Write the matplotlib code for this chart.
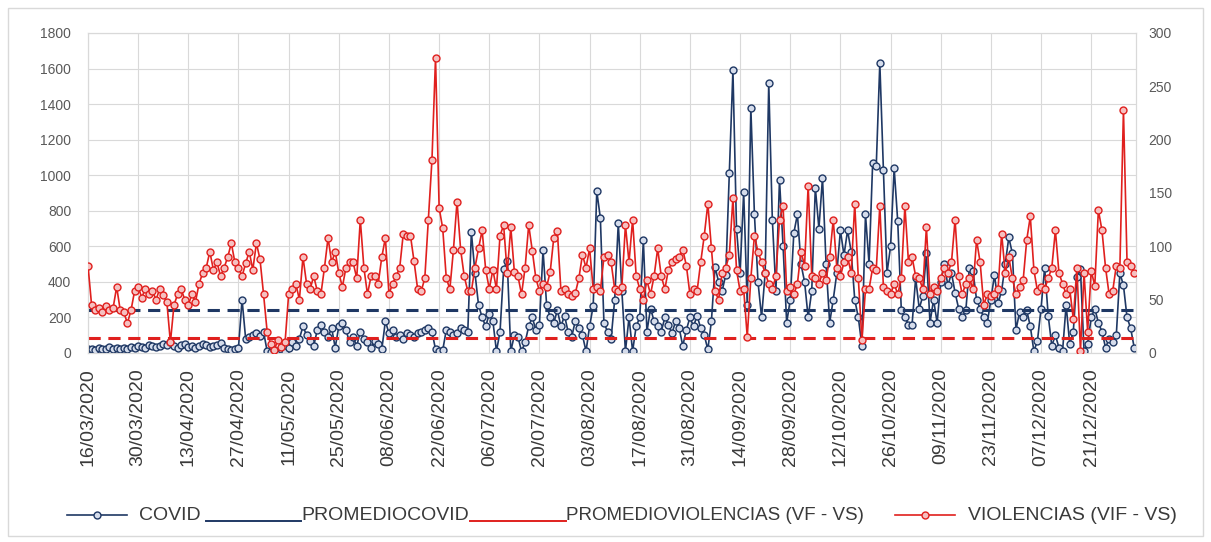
import matplotlib
matplotlib.use("Agg")
import matplotlib.pyplot as plt
from matplotlib.lines import Line2D
from matplotlib.patches import Rectangle
import numpy as np

# ---------------- data ----------------
tick_labels = ["16/03/2020", "30/03/2020", "13/04/2020", "27/04/2020", "11/05/2020",
               "25/05/2020", "08/06/2020", "22/06/2020", "06/07/2020", "20/07/2020",
               "03/08/2020", "17/08/2020", "31/08/2020", "14/09/2020", "28/09/2020",
               "12/10/2020", "26/10/2020", "09/11/2020", "23/11/2020", "07/12/2020",
               "21/12/2020"]

covid = [
    20, 25, 15, 30, 20, 25, 35, 20, 30, 25,
    30, 25, 35, 30, 40, 35, 30, 45, 40, 35,
    40, 50, 45, 60, 40, 30, 45, 50, 35, 40,
    30, 40, 50, 45, 35, 40, 45, 55, 30, 20,
    15, 20, 30, 300, 80, 90, 100, 110, 95, 120,
    10, 5, 15, 10, 20, 5, 30, 60, 40, 80,
    150, 100, 70, 40, 130, 160, 120, 90, 140, 30,
    150, 170, 130, 60, 90, 40, 120, 80, 60, 30,
    70, 50, 20, 180, 110, 130, 90, 100, 80, 110,
    100, 90, 110, 120, 130, 140, 120, 20, 10, 15,
    130, 120, 100, 110, 140, 130, 120, 680, 450, 270,
    200, 150, 220, 180, 10, 120, 470, 520, 10, 100,
    90, 10, 60, 150, 200, 130, 160, 580, 270, 200,
    170, 240, 150, 210, 120, 90, 180, 140, 100, 10,
    150, 265, 910, 760, 170, 120, 80, 300, 730, 350,
    10, 200, 10, 150, 200, 635, 120, 250, 180, 150,
    120, 200, 160, 110, 180, 140, 40, 130, 200, 150,
    210, 140, 100, 20, 180, 485, 400, 350, 440, 1010,
    1590, 700, 450, 905, 270, 1378, 780, 400, 200, 450,
    1518, 750, 350, 975, 600, 170, 300, 675, 780, 500,
    400, 200, 350, 930, 700, 985, 500, 170, 300, 450,
    690, 550, 690, 570, 300, 200, 40, 780, 500, 1070,
    1050, 1630, 1030, 450, 600, 1040, 740, 240, 200, 160,
    160, 420, 250, 320, 560, 170, 300, 170, 400, 500,
    380, 450, 340, 250, 200, 240, 480, 460, 300, 250,
    200, 170, 300, 440, 280, 350, 500, 650, 560, 130,
    230, 200, 240, 150, 10, 70, 250, 480, 210, 40,
    100, 30, 10, 270, 50, 120, 430, 470, 10, 50,
    200, 250, 170, 120, 30, 80, 60, 100, 450, 380,
    200, 140, 30,
]

violencias = [
    82, 45, 40, 42, 38, 44, 40, 42, 62, 40,
    38, 28, 40, 58, 62, 52, 60, 55, 58, 50,
    60, 54, 48, 10, 45, 55, 60, 50, 45, 55,
    48, 65, 75, 80, 95, 78, 85, 72, 80, 90,
    103, 85, 80, 72, 84, 95, 78, 103, 88, 55,
    20, 8, 3, 12, 6, 10, 55, 60, 65, 50,
    90, 65, 60, 72, 58, 55, 80, 108, 85, 95,
    75, 62, 80, 85, 85, 70, 125, 80, 55, 72,
    72, 65, 90, 108, 55, 65, 72, 80, 112, 110,
    110, 86, 60, 58, 70, 125, 181, 277, 136, 117,
    70, 60, 97, 142, 97, 72, 58, 58, 80, 98,
    115, 78, 60, 78, 60, 110, 120, 75, 118, 76,
    72, 55, 80, 120, 96, 70, 58, 65, 62, 76,
    108, 114, 58, 60, 55, 53, 56, 70, 92, 80,
    98, 60, 62, 58, 90, 92, 85, 60, 58, 62,
    120, 85, 125, 72, 60, 50, 68, 55, 72, 98,
    72, 60, 78, 85, 88, 90, 97, 82, 55, 60,
    58, 85, 110, 140, 98, 58, 50, 75, 80, 92,
    145, 78, 58, 60, 15, 70, 110, 95, 85, 75,
    65, 60, 72, 125, 138, 58, 62, 55, 65, 95,
    82, 157, 72, 70, 65, 75, 68, 90, 125, 80,
    72, 85, 90, 75, 140, 70, 12, 60, 60, 80,
    78, 138, 62, 58, 55, 65, 55, 70, 138, 85,
    90, 72, 70, 60, 118, 55, 62, 58, 70, 80,
    75, 85, 125, 72, 55, 65, 70, 60, 106, 85,
    45, 55, 53, 55, 60, 112, 75, 90, 70, 55,
    62, 68, 106, 128, 78, 58, 62, 60, 70, 80,
    115, 75, 65, 55, 60, 32, 80, 2, 75, 20,
    77, 63, 134, 115, 80, 55, 58, 82, 80, 228,
    85, 82, 75,
]

promedio_covid = 240
promedio_violencias = 85

# ---------------- style ----------------
W, H = 1211, 542
BLUE = "#1F3864"
RED = "#E0201E"
GRID = "#D9D9D9"
TXT = "#3A3A3A"
FONT = ["Liberation Sans", "DejaVu Sans"]
plt.rcParams["font.family"] = FONT
MS = 5.0
LW = 1.2


def fx(px):
    return px / W


def fy(py):
    return 1 - py / H


fig = plt.figure(figsize=(W / 100, H / 100), dpi=100)
fig.patch.set_facecolor("white")
fig.add_artist(Rectangle((fx(8), fy(536)), fx(1203) - fx(8), fy(8) - fy(536),
                         transform=fig.transFigure, fill=False, edgecolor=GRID, lw=1))

L, R, T, B = 88, 1136, 33, 353
ax = fig.add_axes([fx(L), fy(B), (R - L) / W, (B - T) / H])
ax2 = ax.twinx()

n = len(covid)
x = np.arange(n)

ax.plot(x, covid, color=BLUE, lw=LW, marker="o", ms=MS, mfc="#D5DCEB", mec=BLUE,
        mew=1.0, zorder=3)
ax.plot([0, n - 1], [promedio_covid, promedio_covid], color=BLUE, lw=2.2,
        dashes=(4, 2.5), zorder=4)
ax.plot([0, n - 1], [promedio_violencias, promedio_violencias], color=RED, lw=2.2,
        dashes=(4, 2.5), zorder=4)
ax2.plot(x, violencias, color=RED, lw=LW, marker="o", ms=MS, mfc="#F5C0C0", mec=RED,
         mew=1.0, zorder=3)

ax.set_xlim(0, n - 1 + 0.5)
ax.set_ylim(0, 1800)
ax2.set_ylim(0, 300)
ax.set_yticks(np.arange(0, 1801, 200))
ax2.set_yticks(np.arange(0, 301, 50))

xt = np.arange(0, 14 * len(tick_labels), 14)
ax.set_xticks(xt)
ax.set_xticklabels(tick_labels, rotation=90, fontsize=14, color=TXT)
ax.tick_params(axis="x", length=0, pad=11)
ax.tick_params(axis="y", length=0, pad=12, labelsize=10, labelcolor="#595959")
ax2.tick_params(axis="y", length=0, pad=9, labelsize=10, labelcolor="#595959")

ax.grid(True, color=GRID, lw=0.8)
ax.set_axisbelow(True)
for a in (ax, ax2):
    for s in a.spines.values():
        s.set_color(GRID)
        s.set_linewidth(0.8)

# ---------------- legend (manual, Excel-like) ----------------
ly = 515
fig.add_artist(Line2D([fx(67), fx(127)], [fy(ly), fy(ly)], color=BLUE, lw=LW,
                      transform=fig.transFigure))
fig.add_artist(Line2D([fx(97)], [fy(ly)], color=BLUE, marker="o", ms=MS,
                      mfc="#D5DCEB", mec=BLUE, mew=1.0, transform=fig.transFigure))
fig.text(fx(139), fy(ly), "COVID", fontsize=14, color=TXT, va="center", ha="left")

fig.add_artist(Line2D([fx(206), fx(301)], [fy(521), fy(521)], color=BLUE, lw=1.4,
                      transform=fig.transFigure))
fig.text(fx(301), fy(ly), "PROMEDIOCOVID", fontsize=14, color=TXT, va="center", ha="left")

fig.add_artist(Line2D([fx(470), fx(566)], [fy(521), fy(521)], color=RED, lw=1.4,
                      transform=fig.transFigure))
fig.text(fx(566), fy(ly), "PROMEDIOVIOLENCIAS (VF - VS)", fontsize=13.5, color=TXT,
         va="center", ha="left")

fig.add_artist(Line2D([fx(895), fx(955)], [fy(ly), fy(ly)], color=RED, lw=LW,
                      transform=fig.transFigure))
fig.add_artist(Line2D([fx(925)], [fy(ly)], color=RED, marker="o", ms=MS,
                      mfc="#F5C0C0", mec=RED, mew=1.0, transform=fig.transFigure))
fig.text(fx(968), fy(ly), "VIOLENCIAS (VIF - VS)", fontsize=14, color=TXT,
         va="center", ha="left")

fig.savefig("out.png", dpi=100)
